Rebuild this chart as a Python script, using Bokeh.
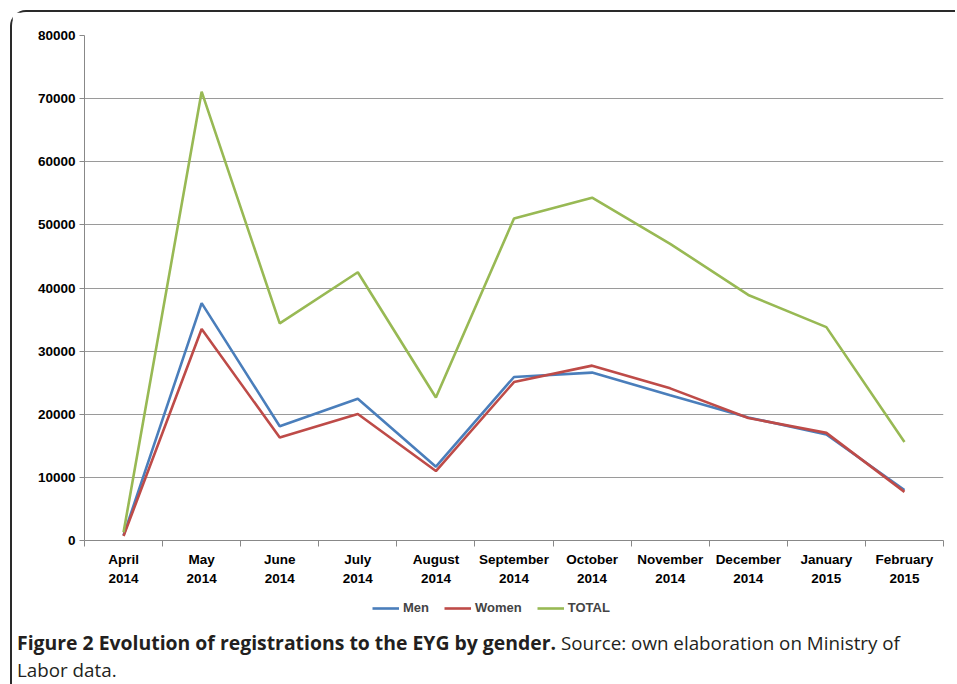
from bokeh.plotting import figure
from bokeh.models import (Range1d, FixedTicker, Legend, LegendItem, Div, NumeralTickFormatter)
from bokeh.layouts import column
from bokeh.embed import file_html
from bokeh.resources import INLINE

months = ["April\n2014", "May\n2014", "June\n2014", "July\n2014", "August\n2014",
          "September\n2014", "October\n2014", "November\n2014", "December\n2014",
          "January\n2015", "February\n2015"]
men = [800, 37600, 18100, 22450, 11700, 25900, 26600, 23000, 19500, 16800, 8000]
women = [700, 33500, 16300, 20050, 11000, 25100, 27700, 24100, 19400, 17050, 7700]
total = [1300, 71100, 34400, 42500, 22650, 51000, 54300, 47000, 38900, 33800, 15600]
y_ticks = [0, 10000, 20000, 30000, 40000, 50000, 60000, 70000, 80000]
series_names = ["Men", "Women", "TOTAL"]
series_colors = ["#4A7EBB", "#BE4B48", "#98B954"]

xs = list(range(1, len(months) + 1))

p = figure(width=943, height=580, output_backend="svg", toolbar_location=None,
           x_range=Range1d(0.5, len(months) + 0.5), y_range=Range1d(0, 80000),
           min_border_left=72, min_border_top=23, min_border_right=12, min_border_bottom=52)
p.outline_line_color = None
p.background_fill_color = "white"
p.border_fill_color = "white"

for vals, col in zip([men, women, total], series_colors):
    p.line(xs, vals, line_color=col, line_width=2.6)

# x axis
p.xaxis.ticker = FixedTicker(ticks=xs, minor_ticks=[x + 0.5 for x in range(0, len(months) + 1)])
p.xaxis.major_label_overrides = {x: m for x, m in zip(xs, months)}
p.xaxis.major_tick_line_color = None
p.xaxis.minor_tick_line_color = "#888888"
p.xaxis.minor_tick_out = 6
p.xaxis.minor_tick_in = 0
p.xaxis.axis_line_color = "#888888"
p.xaxis.major_label_text_font = "Liberation Sans"
p.xaxis.major_label_text_font_style = "bold"
p.xaxis.major_label_text_font_size = "13.5px"
p.xaxis.major_label_text_color = "black"
p.xaxis.major_label_standoff = 5
p.xaxis.major_label_text_line_height = 1.3

# y axis
p.yaxis.ticker = FixedTicker(ticks=y_ticks, minor_ticks=[])
p.yaxis.formatter = NumeralTickFormatter(format="0")
p.yaxis.major_tick_out = 5
p.yaxis.major_tick_in = 0
p.yaxis.major_tick_line_color = "#888888"
p.yaxis.axis_line_color = "#888888"
p.yaxis.major_label_text_font = "Liberation Sans"
p.yaxis.major_label_text_font_style = "bold"
p.yaxis.major_label_text_font_size = "13.5px"
p.yaxis.major_label_text_color = "black"
p.yaxis.major_label_standoff = 4

p.xgrid.grid_line_color = None
p.ygrid.grid_line_color = "#9a9a9a"
p.ygrid.grid_line_width = 1

# legend strip (separate small figure so the legend is not clipped);
# the series are drawn here outside the visible range, only their legend shows
pl = figure(width=943, height=32, output_backend="svg", toolbar_location=None,
            x_range=Range1d(100, 101), y_range=Range1d(0, 1),
            min_border=0, min_border_left=0, min_border_right=0,
            min_border_top=0, min_border_bottom=0)
pl.axis.visible = False
pl.grid.visible = False
pl.outline_line_color = None
pl.border_fill_color = "white"
pl.background_fill_color = "white"
items = []
for name, vals, col in zip(series_names, [men, women, total], series_colors):
    r = pl.line(xs, vals, line_color=col, line_width=2.6)
    items.append(LegendItem(label=name, renderers=[r]))
legend = Legend(items=items, orientation="horizontal", location=(288, 9),
                label_text_font="Liberation Sans", label_text_font_style="bold",
                label_text_font_size="13px", glyph_width=27, glyph_height=12,
                label_standoff=4, spacing=15, border_line_color=None,
                background_fill_alpha=0, margin=0, padding=2)
pl.add_layout(legend, "center")

caption = Div(text="<b style='font-size:19.4px'>Figure 2 Evolution of registrations to the EYG by gender.</b> "
                   "Source: own elaboration on Ministry of<br>Labor data.",
              width=930, height=58,
              styles={"font-family": "'Open Sans'", "font-size": "18.8px",
                      "color": "#231f20", "line-height": "27px",
                      "padding-left": "0px", "padding-top": "0px"})

layout = column(p, pl, caption, spacing=0, margin=(10, 0, 0, 10),
                styles={"border-top": "2px solid #2a2a2a", "border-left": "2px solid #2a2a2a",
                        "border-top-left-radius": "16px", "background": "white"})

open("out.html", "w").write(file_html(layout, INLINE))
